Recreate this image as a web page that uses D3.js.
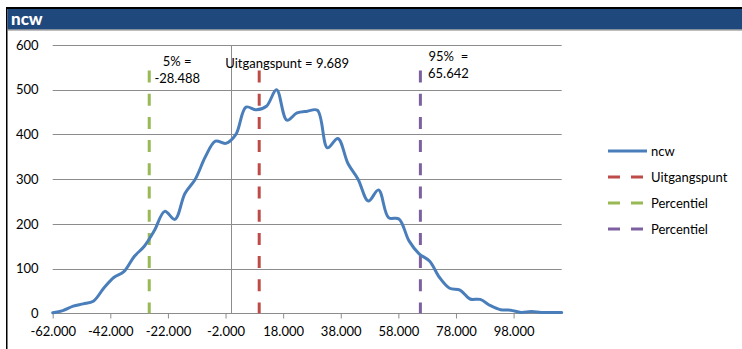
<!DOCTYPE html>
<html>
<head>
<meta charset="utf-8">
<script src="https://cdn.jsdelivr.net/npm/d3@7"></script>
<style>
  html, body { margin: 0; padding: 0; background: #fff; }
  svg { display: block; font-family: Lato, "Open Sans", sans-serif; }
</style>
</head>
<body>
<svg id="chart" width="742" height="349"></svg>
<script>
// ---- data ----
const title = "ncw";
const binX = [-62.0, -58.5, -54.9, -51.4, -47.9, -44.3, -40.8, -37.3, -33.7, -30.2,
  -26.7, -23.1, -19.6, -16.1, -12.5, -9.0, -5.5, -1.9, 1.6, 5.1,
  8.7, 12.2, 15.7, 19.3, 22.8, 26.4, 29.9, 33.4, 37.0, 40.5,
  44.0, 47.6, 51.1, 54.6, 58.2, 61.7, 65.2, 68.8, 72.3, 75.8,
  79.4, 82.9, 86.4, 90.0, 93.5, 97.0, 100.6, 104.1, 107.6, 111.2, 114.7];
const ncwCounts = [1, 6, 16, 21, 27, 56, 80, 93, 127, 150,
  185, 228, 210, 268, 300, 350, 385, 380, 400, 461,
  455, 463, 500, 432, 448, 452, 454, 370, 391, 335,
  300, 251, 276, 214, 211, 162, 133, 117, 80, 56,
  52, 32, 31, 17, 8, 7, 2, 4, 2, 2, 2];
const markerNames = ["Uitgangspunt", "Percentiel", "Percentiel"];
const markerX = [9.689, -28.488, 65.642];
const markerTop = [543, 543, 543];
const markerLabels = [["Uitgangspunt = 9.689"], ["5% =", "-28.488"], ["95%  =", "65.642"]];
const xTicks = [-62, -42, -22, -2, 18, 38, 58, 78, 98];
const yTicks = [0, 100, 200, 300, 400, 500, 600];
const legendNames = ["ncw", "Uitgangspunt", "Percentiel", "Percentiel"];

// ---- styles ----
const colNcw = "#4A7EBB";
const markerColors = ["#BE4B48", "#98B954", "#7D60A0"];
const legendColors = [colNcw, "#BE4B48", "#98B954", "#7D60A0"];
const gridCol = "#8C8C8C";

const svg = d3.select("#chart");

// frame + title bar
svg.append("rect").attr("x", 7).attr("y", 7).attr("width", 735).attr("height", 2).attr("fill", "#000");
svg.append("rect").attr("x", 6).attr("y", 7).attr("width", 1.5).attr("height", 342).attr("fill", "#000");
svg.append("rect").attr("x", 7.5).attr("y", 9).attr("width", 735).attr("height", 20.5).attr("fill", "#1F497D");
svg.append("rect").attr("x", 7.5).attr("y", 29.5).attr("width", 735).attr("height", 1).attr("fill", "#7F7F7F");
svg.append("text").attr("x", 11).attr("y", 24.5).attr("fill", "#fff")
  .attr("font-weight", "900").attr("font-size", 17).text(title);

// scales
const x = d3.scaleLinear().domain([-62, 114.7]).range([52.7, 561.7]);
const y = d3.scaleLinear().domain([0, 600]).range([313.3, 45]);

// gridlines
svg.append("g").selectAll("line").data(yTicks).join("line")
  .attr("x1", x(-62)).attr("x2", x(114.7))
  .attr("y1", d => Math.round(y(d)) + 0.5).attr("y2", d => Math.round(y(d)) + 0.5)
  .attr("stroke", gridCol).attr("stroke-width", 1);

// vertical axis at x = 0
const vx = Math.round(x(0)) + 0.5;
svg.append("line").attr("x1", vx).attr("x2", vx).attr("y1", y(600)).attr("y2", y(0))
  .attr("stroke", gridCol);
svg.append("g").selectAll("line").data(yTicks).join("line")
  .attr("x1", vx - 5).attr("x2", vx)
  .attr("y1", d => Math.round(y(d)) + 0.5).attr("y2", d => Math.round(y(d)) + 0.5)
  .attr("stroke", gridCol);

// x axis
const xAxis = d3.axisBottom(x).tickValues(xTicks).tickSize(5).tickPadding(8)
  .tickFormat(d => d3.format(".3f")(d).replace("\u2212", "-"));
const gx = svg.append("g").attr("transform", `translate(0,${Math.round(y(0)) + 0.5})`).call(xAxis);
gx.select(".domain").remove();
gx.selectAll(".tick line").attr("stroke", gridCol);
gx.selectAll(".tick text").attr("font-size", 13).attr("fill", "#000")
  .attr("font-family", "Lato, sans-serif");

// y axis labels
const yAxis = d3.axisLeft(y).tickValues(yTicks).tickSize(0).tickPadding(0);
const gy = svg.append("g").attr("transform", "translate(38.5,0)").call(yAxis);
gy.select(".domain").remove();
gy.selectAll(".tick text").attr("font-size", 13).attr("fill", "#000")
  .attr("font-family", "Lato, sans-serif");

// marker dashed lines
markerX.forEach((mx, i) => {
  svg.append("line")
    .attr("x1", x(mx)).attr("x2", x(mx))
    .attr("y1", y(markerTop[i])).attr("y2", y(0))
    .attr("stroke", markerColors[i]).attr("stroke-width", 3)
    .attr("stroke-dasharray", "12,11.2");
});

// ncw curve
const pts = binX.map((v, i) => [v, ncwCounts[i]]);
const line = d3.line().x(d => x(d[0])).y(d => y(d[1])).curve(d3.curveCatmullRom.alpha(0.5));
svg.append("path").datum(pts).attr("d", line)
  .attr("fill", "none").attr("stroke", colNcw).attr("stroke-width", 3)
  .attr("stroke-linejoin", "round").attr("stroke-linecap", "round");

// marker labels
const labelY = [[62.7], [60.7, 77.7], [56, 72.7]];
markerX.forEach((mx, i) => {
  markerLabels[i].forEach((t, j) => {
    svg.append("text").attr("x", x(mx) + 28).attr("y", labelY[i][j])
      .attr("text-anchor", "middle").attr("dominant-baseline", "central")
      .attr("font-size", 13).attr("fill", "#000").attr("xml:space", "preserve")
      .style("white-space", "pre").text(t);
  });
});

// legend
const lg = svg.append("g");
legendNames.forEach((name, i) => {
  const ly = 151 + i * 26;
  lg.append("line").attr("x1", 608).attr("x2", 647).attr("y1", ly).attr("y2", ly)
    .attr("stroke", legendColors[i]).attr("stroke-width", 3)
    .attr("stroke-dasharray", i === 0 ? null : "12,11");
  lg.append("text").attr("x", 651).attr("y", ly).attr("dominant-baseline", "central")
    .attr("font-size", 13).attr("fill", "#000").text(name);
});
</script>
</body>
</html>
